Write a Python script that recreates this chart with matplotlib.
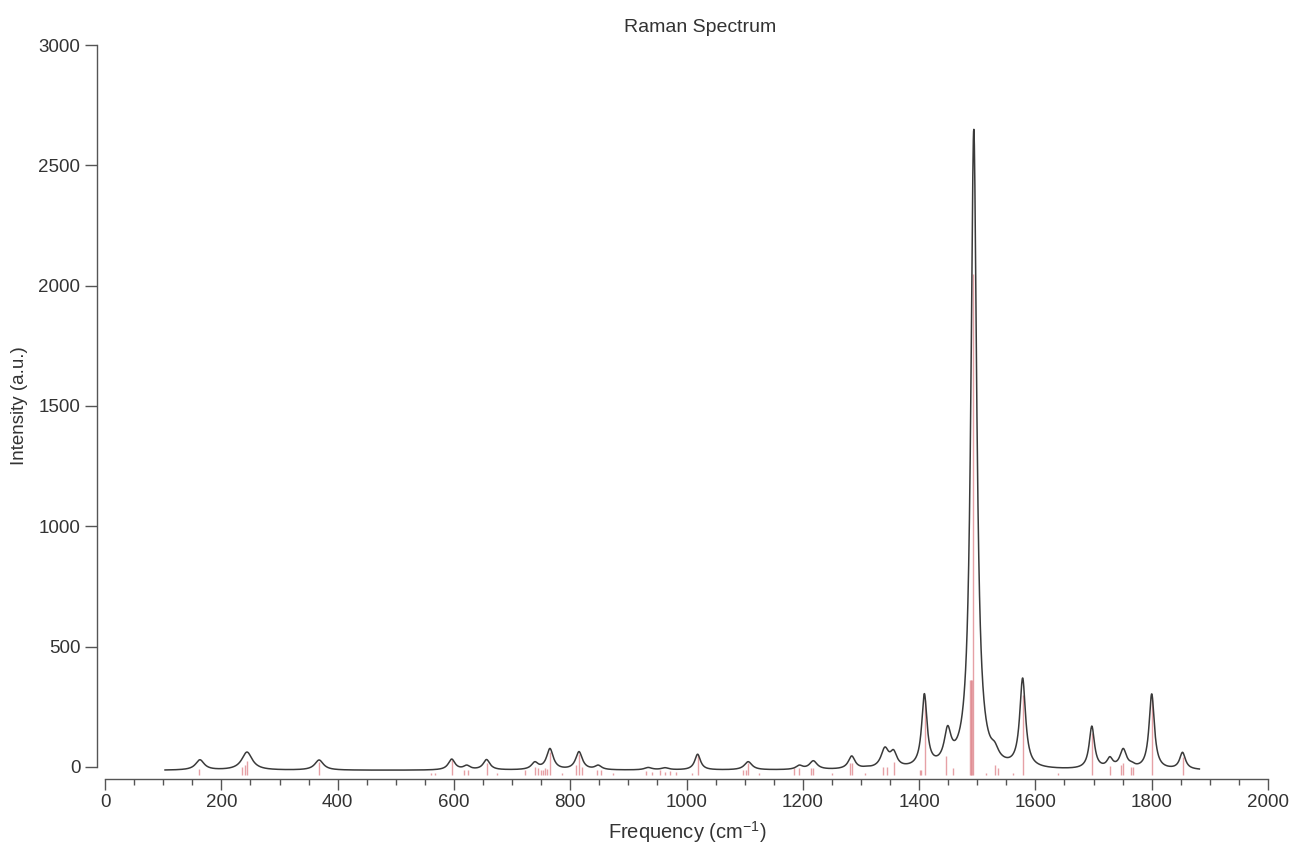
import numpy as np
import matplotlib.pyplot as plt

plt.rcParams['font.family'] = ['Liberation Sans', 'DejaVu Sans']
plt.rcParams['mathtext.fontset'] = 'custom'
plt.rcParams['mathtext.rm'] = 'Liberation Sans'
plt.rcParams['axes.unicode_minus'] = False

# Stick spectrum (frequency, height)
stick_freq = [162, 236, 240, 244, 368, 560, 568, 596, 618, 624, 656, 674,
              722, 739, 744, 750, 753, 756, 760, 765, 785, 809, 815, 821,
              846, 852, 874, 931, 940, 955, 963, 972, 982, 1010, 1019,
              1097, 1102, 1106, 1124, 1185, 1194, 1214, 1218, 1250, 1281,
              1284, 1307, 1338, 1344, 1356, 1402, 1404, 1410, 1447, 1458,
              1489, 1493, 1515, 1530, 1536, 1562, 1579, 1639, 1697, 1728,
              1747, 1751, 1765, 1768, 1800, 1853]
stick_height = [-8, 0, 8, 25, 22, -25, -25, 29, -12, -12, 15, -25,
                -12, 0, -5, -12, -12, -5, -8, 64, -25, 10, 55, 0,
                -12, -12, -25, -15, -20, -12, -20, -15, -20, -25, 50,
                -12, -12, 18, -25, -5, -5, -5, -5, -25, 16,
                16, -25, 0, 0, 22, -12, -12, 280, 45, -5,
                360, 2050, -25, 8, -5, -25, 300, -25, 140, 5,
                10, 15, 0, 0, 292, 43]
stick_base = -32

# Broadened spectrum: peak positions, peak heights and widths
peak_freq = [163, 244, 368, 596, 622, 656, 739, 765, 815, 848, 934, 963,
             1019, 1106, 1194, 1218, 1284, 1310, 1341, 1356, 1409, 1449,
             1494, 1530, 1578, 1697, 1728, 1751, 1766, 1800, 1853]
peak_height = [30, 62, 29, 33, 8, 31, 22, 77, 64, 8, -2, -3,
               53, 22, 8, 26, 46, 4, 83, 72, 305, 172,
               2650, 105, 370, 170, 43, 77, 22, 304, 61]
peak_fwhm = [18, 22, 18, 14, 14, 14, 14, 14, 14, 14, 16, 16,
             12, 16, 14, 16, 14, 14, 16, 14, 11, 14,
             12, 16, 12, 11, 12, 14, 12, 11, 12]
baseline = -14
freq_min, freq_max = 103, 1882

x = np.linspace(freq_min, freq_max, 4000)
c = np.array(peak_freq, float)
g = np.array(peak_fwhm, float) / 2
target = np.array(peak_height, float) - baseline


def lor(d, hw):
    return hw ** 2 / (d ** 2 + hw ** 2)


# amplitudes so that the curve hits the read peak heights
M = lor(c[:, None] - c[None, :], g[None, :])
amp = np.linalg.solve(M, target)
y = baseline + (amp[None, :] * lor(x[:, None] - c[None, :], g[None, :])).sum(axis=1)

fig = plt.figure(figsize=(12.98, 8.5), dpi=100)
ax = fig.add_axes([97 / 1298, (850 - 779) / 850, (1268 - 97) / 1298, (779 - 45) / 850])

ax.vlines(stick_freq, stick_base, stick_height, color='#e08a90', lw=1.0, alpha=0.8, zorder=1)
ax.vlines([1489], stick_base, [360], color='#e08a90', lw=2.5, alpha=0.75, zorder=1)
ax.plot(x, y, color='#3a3a3a', lw=1.1, zorder=2)

ax.set_xlim(-14, 2000)
ax.set_ylim(-50, 3000)
for s in ['top', 'right']:
    ax.spines[s].set_visible(False)
ax.spines['bottom'].set_bounds(0, 2000)
ax.spines['left'].set_bounds(0, 3000)
for s in ['bottom', 'left']:
    ax.spines[s].set_color('#555555')
    ax.spines[s].set_linewidth(1.0)

ax.set_xticks(np.arange(0, 2001, 200))
ax.set_xticks(np.arange(0, 2001, 50), minor=True)
ax.set_yticks(np.arange(0, 3001, 500))
ax.tick_params(axis='x', which='major', length=8, width=1, color='#555555', labelsize=13.5,
               labelcolor='#333333', pad=3)
ax.tick_params(axis='x', which='minor', length=4.5, width=1, color='#555555')
ax.tick_params(axis='y', which='major', length=9, width=1, color='#555555', labelsize=13.5,
               labelcolor='#333333', pad=3)

fig.text(700 / 1298, 1 - 28 / 850, 'Raman Spectrum', ha='center', va='center',
         fontsize=14, color='#333333')
fig.text(687 / 1298, 1 - 832 / 850, 'Frequency (cm$^{-1}$)', ha='center', va='center',
         fontsize=14.5, color='#333333')
fig.text(20 / 1298, 1 - 406 / 850, 'Intensity (a.u.)', ha='center', va='center',
         rotation=90, fontsize=13.5, color='#333333')

fig.savefig('out.png', dpi=100)
